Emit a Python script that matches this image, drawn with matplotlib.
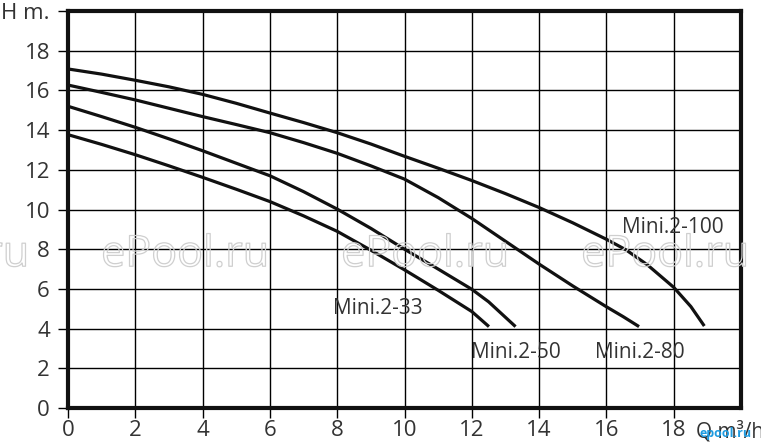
import matplotlib
matplotlib.use("Agg")
import matplotlib.pyplot as plt
import matplotlib.patheffects as pe

# ---- data ----
q_100 = [0, 1, 2, 3, 4, 5, 6, 7, 8, 9, 10, 11, 12, 13, 14, 15, 16, 16.58, 17.22, 18, 18.51, 18.91]
h_100 = [17.08, 16.82, 16.51, 16.18, 15.80, 15.35, 14.86, 14.38, 13.87, 13.30, 12.68, 12.08, 11.46, 10.80, 10.10, 9.33, 8.50, 7.97, 7.21, 6.08, 5.11, 4.13]

q_80 = [0, 1, 2, 3, 4, 5, 6, 7, 8, 9, 10, 11, 12, 13, 14, 15, 16, 16.5, 16.97]
h_80 = [16.27, 15.90, 15.52, 15.10, 14.68, 14.28, 13.87, 13.37, 12.83, 12.20, 11.53, 10.60, 9.55, 8.40, 7.25, 6.15, 5.10, 4.60, 4.10]

q_50 = [0, 1, 2, 3, 4, 5, 6, 7, 8, 9, 10, 11, 12, 12.5, 13.3]
h_50 = [15.20, 14.68, 14.14, 13.56, 12.96, 12.33, 11.70, 10.90, 10.02, 9.05, 8.00, 7.00, 5.98, 5.35, 4.10]

q_33 = [0, 1, 2, 3, 4, 5, 6, 7, 8, 9, 10, 11, 12, 12.51]
h_33 = [13.77, 13.28, 12.76, 12.20, 11.62, 11.02, 10.40, 9.68, 8.90, 7.95, 6.96, 5.93, 4.86, 4.10]

labels = ["Mini.2-100", "Mini.2-80", "Mini.2-50", "Mini.2-33"]
label_pos = [(16.45, 9.08), (15.65, 2.82), (11.97, 2.82), (7.87, 4.99)]

x_ticks = [0, 2, 4, 6, 8, 10, 12, 14, 16, 18]
y_ticks = [0, 2, 4, 6, 8, 10, 12, 14, 16, 18, 20]
y_ticklabels = ["0", "2", "4", "6", "8", "10", "12", "14", "16", "18", "H m."]
x_unit = "Q m³/h"

plt.rcParams['font.family'] = ['Open Sans', 'DejaVu Sans']

W, H = 761, 446
fig = plt.figure(figsize=(W / 100, H / 100), dpi=100)
ax = fig.add_axes([68 / W, (H - 408) / H, (741 - 68) / W, (408 - 11) / H])
ax.set_xlim(0, 20)
ax.set_ylim(0, 20)

txtc = "#333333"

# watermarks
for cx in [-55, 185, 425, 665]:
    fig.text(cx / W, (H - 255) / H, "ePool.ru", fontsize=31, color=(1, 1, 1, 0),
             ha="center", va="center", zorder=0.5,
             path_effects=[pe.Stroke(linewidth=0.9, foreground="#cfcfcf")])

ax.set_xticks(x_ticks)
ax.set_yticks(y_ticks)
ax.set_yticklabels(y_ticklabels)
ax.grid(True, color="black", linewidth=1.0)
ax.set_axisbelow(True)
ax.tick_params(axis="both", direction="out", length=7, width=1.0, color="black",
               labelsize=16, labelcolor=txtc)
ax.tick_params(axis="y", pad=6)
ax.tick_params(axis="x", pad=2)
for s in ax.spines.values():
    s.set_linewidth(3.0)
    s.set_color("#111111")
ax.patch.set_alpha(0)

for q, h in [(q_100, h_100), (q_80, h_80), (q_50, h_50), (q_33, h_33)]:
    ax.plot(q, h, color="#111111", linewidth=2.3, solid_capstyle="butt",
            solid_joinstyle="round", zorder=3)

for lab, (x, y) in zip(labels, label_pos):
    ax.text(x, y, lab, fontsize=15, color=txtc, ha="left", va="center", zorder=4)

# x unit label at position 20
fig.text(696 / W, (H - 432) / H, x_unit, fontsize=15, color=txtc, ha="left", va="center")
fig.text(699 / W, (H - 434) / H, "epool.ru", fontsize=9, color="#1e9be0",
         ha="left", va="center", fontweight="bold")

fig.savefig("out.png", dpi=100)
